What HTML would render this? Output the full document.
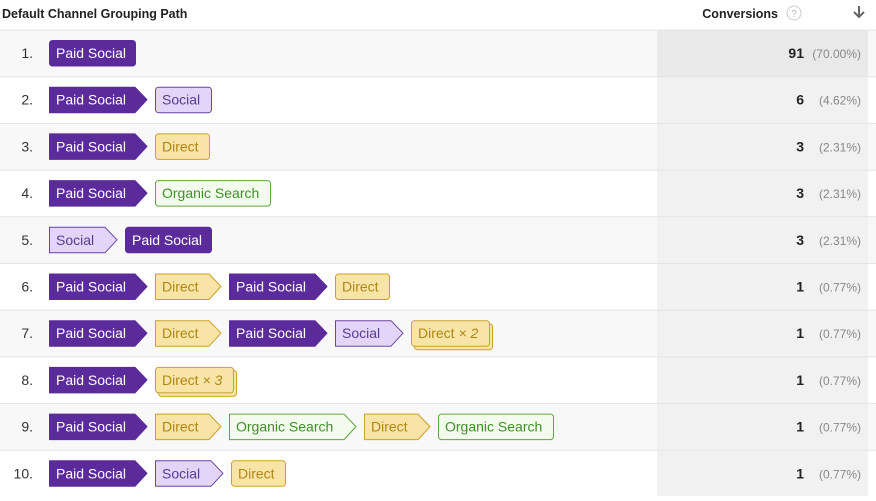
<!DOCTYPE html>
<html><head><meta charset="utf-8"><style>
body{margin:0;background:#fff;width:876px;height:496px;overflow:hidden;font-family:"Liberation Sans",Arial,sans-serif}
</style></head><body>
<svg id="s" width="876" height="496" xmlns="http://www.w3.org/2000/svg" font-family="Liberation Sans, Arial, sans-serif"></svg>
<script>
const S=document.getElementById('s');let h='';
h+='<rect x="0" y="0" width="876" height="30" fill="#fff"/>';
h+='<text x="2" y="18" font-size="12.5" font-weight="bold" fill="#222">Default Channel Grouping Path</text>';
h+='<text x="778" y="18" font-size="12.5" font-weight="bold" fill="#222" text-anchor="end">Conversions</text>';
h+='<circle cx="794" cy="13" r="7" fill="none" stroke="#ccc"/><text x="794" y="17" font-size="10" fill="#bbb" text-anchor="middle">?</text>';
h+='<path d="M859 6 v11 M854 12 l5 5 l5 -5" stroke="#666" stroke-width="2" fill="none"/>';
const C={P:{f:'#5b2b9b',s:'#5b2b9b',t:'#fff',n:'Paid Social',w:86},S:{f:'#e2d5f8',s:'#6b45a8',t:'#5b3a8f',n:'Social',w:56},D:{f:'#f9e4a8',s:'#c9a227',t:'#b08614',n:'Direct',w:54},O:{f:'#f3fbec',s:'#5ea642',t:'#3f8f2a',n:'Organic Search',w:115}};
const rows=[[['P']],[['P'],['S']],[['P'],['D']],[['P'],['O']],[['S'],['P']],[['P'],['D'],['P'],['D']],[['P'],['D'],['P'],['S'],['D',2]],[['P'],['D',3]],[['P'],['D'],['O'],['D'],['O']],[['P'],['S'],['D']]];
const vals=[['91','(70.00%)'],['6','(4.62%)'],['3','(2.31%)'],['3','(2.31%)'],['3','(2.31%)'],['1','(0.77%)'],['1','(0.77%)'],['1','(0.77%)'],['1','(0.77%)'],['1','(0.77%)']];
rows.forEach((r,i)=>{
 const top=30+i*46.7;
 h+=`<rect x="0" y="${top}" width="876" height="46.7" fill="${i%2==0?'#f8f8f8':'#fff'}"/>`;
 h+=`<rect x="657" y="${top}" width="211" height="46.7" fill="${i==0?'#e9e9e9':'#f1f1f1'}"/>`;
 h+=`<line x1="0" x2="876" y1="${top}" y2="${top}" stroke="#e4e4e4"/>`;
 h+=`<text x="33" y="${top+28}" font-size="14" fill="#333" text-anchor="end">${i+1}.</text>`;
 let x=49;const y=top+10;
 r.forEach((c,j)=>{
  const k=C[c[0]];const arrow=j<r.length-1;let w=k.w;
  let label=k.n;
  if(c[1]){w=78;label=k.n+' <tspan font-style="italic">× '+c[1]+'</tspan>';
   h+=`<rect x="${x+3.5}" y="${y+3.5}" width="${w}" height="26" rx="3" fill="${k.f}" stroke="${k.s}"/>`;}
  if(arrow){w+=12;h+=`<path d="M${x+0.5} ${y+0.5}H${x+w-12}L${x+w} ${y+13}L${x+w-12} ${y+26}H${x+0.5}Z" fill="${k.f}" stroke="${k.s}" stroke-linejoin="round"/>`;}
  else h+=`<rect x="${x+0.5}" y="${y+0.5}" width="${w}" height="25.5" rx="3" fill="${k.f}" stroke="${k.s}"/>`;
  h+=`<text x="${x+7}" y="${y+18}" font-size="14" fill="${k.t}">${label}</text>`;
  x+=w+8;
 });
 h+=`<text x="804" y="${top+28}" font-size="14" font-weight="bold" fill="#222" text-anchor="end">${vals[i][0]}</text>`;
 h+=`<text x="861" y="${top+28}" font-size="12" fill="#888" text-anchor="end">${vals[i][1]}</text>`;
});
S.innerHTML=h;
</script>
</body></html>
